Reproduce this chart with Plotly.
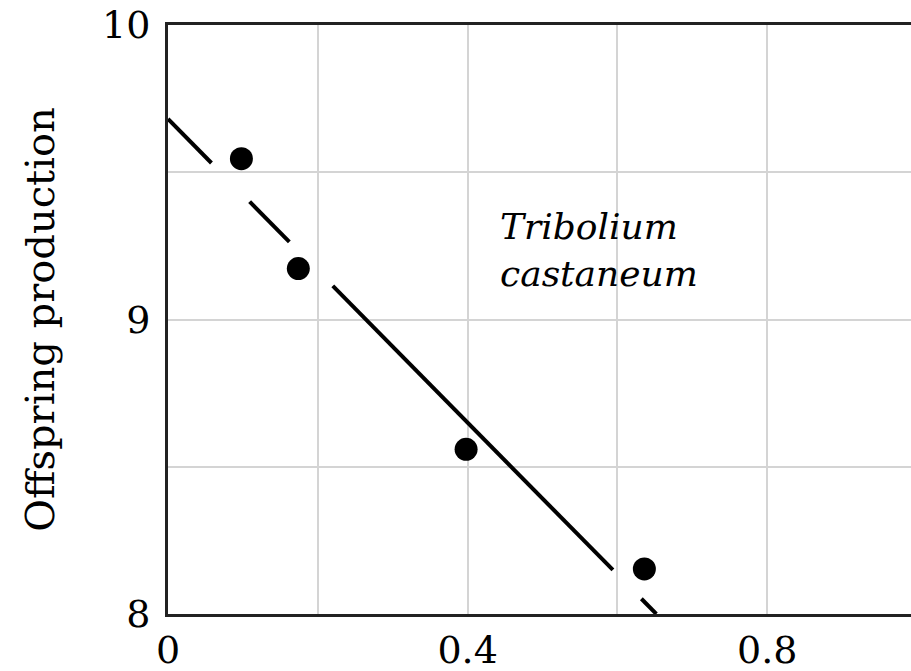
import plotly.graph_objects as go

# Data points
x_points = [0.098, 0.174, 0.398, 0.636]
y_points = [9.546, 9.173, 8.559, 8.153]

# Fitted line: intercept and slope, drawn as segments with gaps
fit_intercept = 9.681
fit_slope = -2.578
segment_starts = [0.0, 0.109, 0.220, 0.632]
segment_ends = [0.058, 0.162, 0.594, 0.652]

x_tickvals = [0, 0.2, 0.4, 0.6, 0.8]
x_ticktext = ["0", "", "0.4", "", "0.8"]
y_tickvals = [8, 8.5, 9, 9.5, 10]
y_ticktext = ["8", "", "9", "", "10"]

species_label = "<i>Tribolium<br>castaneum</i>"
y_title = "Offspring production"

line_x, line_y = [], []
for s, e in zip(segment_starts, segment_ends):
    line_x += [s, e, None]
    line_y += [fit_intercept + fit_slope * s, fit_intercept + fit_slope * e, None]

FONT = "DejaVu Serif"

fig = go.Figure()
fig.add_trace(go.Scatter(x=line_x, y=line_y, mode="lines",
                         line=dict(color="black", width=4), showlegend=False,
                         cliponaxis=True))
fig.add_trace(go.Scatter(x=x_points, y=y_points, mode="markers",
                         marker=dict(color="black", size=23), showlegend=False))

fig.add_annotation(x=0.44, y=9.235, xref="x", yref="y", text=species_label,
                   showarrow=False, xanchor="left", yanchor="middle", align="left",
                   font=dict(family=FONT, size=36, color="black"))

fig.update_layout(
    width=911, height=671,
    margin=dict(l=168, r=0, t=25, b=57, autoexpand=False),
    plot_bgcolor="white", paper_bgcolor="white",
    font=dict(family=FONT, size=38, color="black"),
    xaxis=dict(range=[0, 0.992], tickvals=x_tickvals, ticktext=x_ticktext,
               showgrid=True, gridcolor="#d4d4d4", gridwidth=2,
               showline=True, linecolor="#222", linewidth=3, mirror=True,
               ticks="", zeroline=False, ticklabelstandoff=0,
               tickfont=dict(family=FONT, size=38, color="black")),
    yaxis=dict(range=[8, 10], tickvals=y_tickvals, ticktext=y_ticktext,
               showgrid=True, gridcolor="#d4d4d4", gridwidth=2,
               showline=True, linecolor="#222", linewidth=3, mirror=False,
               ticks="", zeroline=False, ticklabelstandoff=7,
               title=dict(text=y_title, standoff=36,
                          font=dict(family=FONT, size=40, color="black")),
               tickfont=dict(family=FONT, size=38, color="black")),
)

fig.write_html("out.html", config={"displayModeBar": False},
               post_script="document.body.style.margin='0';document.body.style.overflow='hidden';")
